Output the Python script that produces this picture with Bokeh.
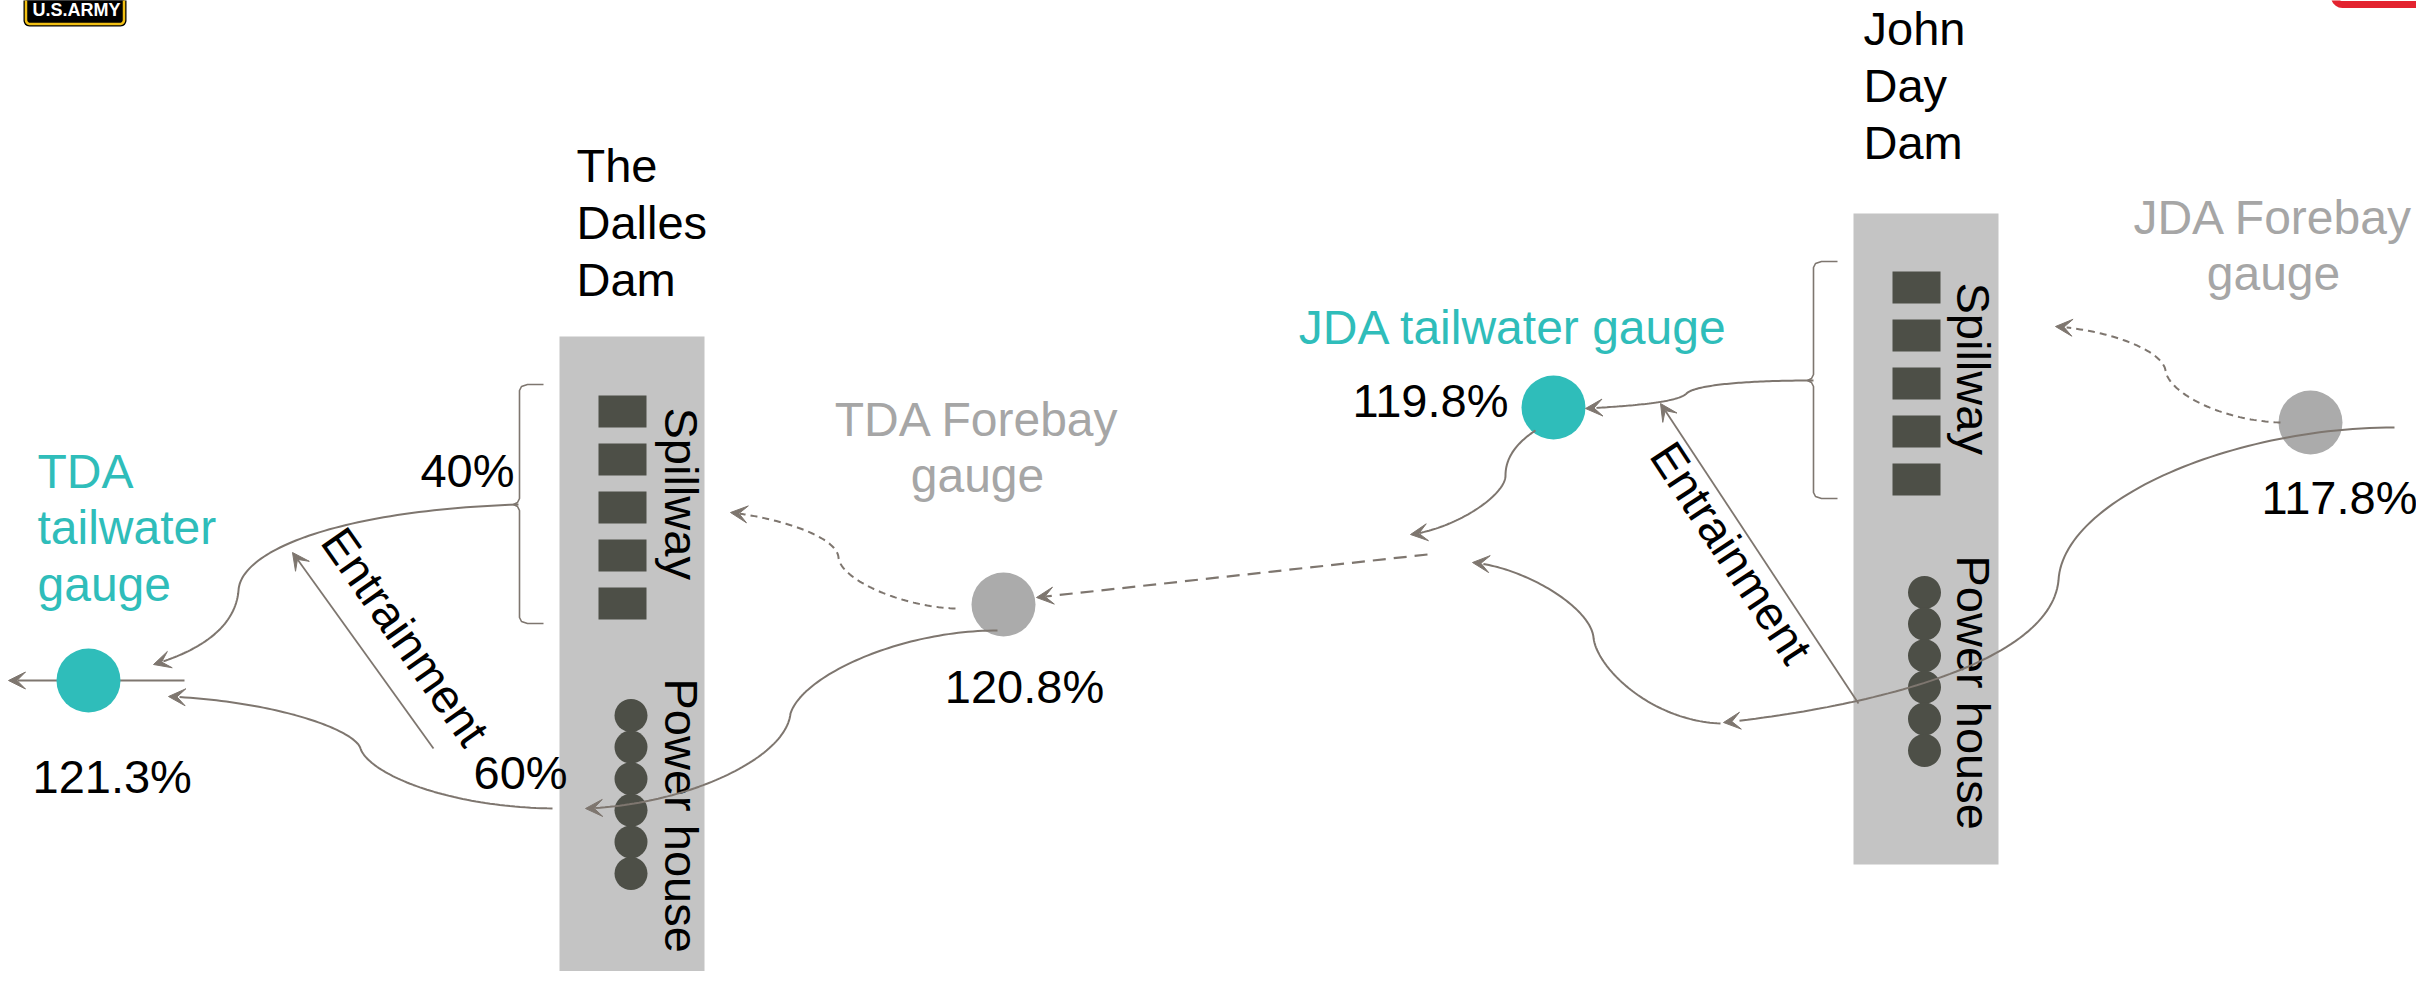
import numpy as np
from bokeh.plotting import figure
from bokeh.models import Range1d, Arrow, VeeHead, ColumnDataSource
from bokeh.core.properties import value
from bokeh.embed import file_html
from bokeh.resources import INLINE

# ---------------- data (labels and values) ----------------
dam_names = ["The Dalles Dam", "John Day Dam"]
gauge_names = ["TDA tailwater gauge", "TDA Forebay gauge", "JDA tailwater gauge", "JDA Forebay gauge"]
gauge_values = [121.3, 120.8, 119.8, 117.8]
gauge_kind = ["tailwater", "forebay", "tailwater", "forebay"]
tda_split_pct = [40, 60]          # spillway, power house
section_labels = ["Spillway", "Power house"]
flow_label = "Entrainment"
spill_bays = [5, 5]
turbine_units = [6, 6]

# ---------------- style ----------------
FONT = "Liberation Sans"
FS = 47
FS_L = 48
TEAL = "#2FBDBA"
GREY_TXT = "#A6A6A6"
GREY_DOT = "#ABABAB"
BAR = "#C4C4C4"
DARK = "#4D4F47"
LINE = "#7E766F"
RED = "#E3232F"
LSP = 56.5
BDY_EM = -0.383      # baseline correction (in em) for alphabetic text

W, H = 2416, 971
p = figure(width=W, height=H, x_range=Range1d(0, W), y_range=Range1d(H, 0),
           output_backend="svg", toolbar_location=None, min_border=0,
           x_axis_location=None, y_axis_location=None)
p.grid.visible = False
p.outline_line_color = None
p.background_fill_color = "white"
p.border_fill_color = "white"

# ---------------- layout ----------------
dam_bar = [dict(l=559, r=704, t=336, b=1000), dict(l=1853, r=1998, t=213, b=864)]
sq_x = [622, 1916]
sq_y0 = [411, 287]
sq_step = 48
tb_x = [630.5, 1924]
tb_y0 = [715, 592]
tb_step = 31.6
label_x = [681, 1973]
spill_y = [407, 282]
ph_y = [678, 555]
dam_title = [(576, 183), (1863, 46)]
gauge_xy = [(88, 680), (1003, 604), (1553, 407), (2310, 422)]

def txt(x, y, s, color="black", align="left", baseline="alphabetic", angle=0.0, size=FS, style="normal"):
    p.text(x=[x], y=[y], text=[s], text_color=color, text_align=align, text_baseline=baseline,
           angle=angle, text_font=value(FONT), text_font_size=f"{size}px", text_font_style=style)

def htxt(x, y, s, size=FS, **kw):
    txt(x, y + BDY_EM * size, s, size=size, **kw)

# logo fragment (top-left)
def rounded_box(l, r, t, b, rad):
    a = np.linspace(np.pi, np.pi / 2, 8)
    xs = [l] + list(l + rad + rad * np.cos(a)) + list(r - rad - rad * np.cos(a[::-1])) + [r]
    ys = [t] + list(b - rad + rad * np.sin(a)) + list(b - rad + rad * np.sin(a[::-1])) + [t]
    return xs, ys
bx, by = rounded_box(23, 126, -10, 26, 6)
p.patch(bx, by, fill_color="black", line_color=None)
bx, by = rounded_box(25.5, 123.5, -10, 23.5, 4)
p.patch(bx, by, fill_color="black", line_color="#F2C014", line_width=2.5)
htxt(32, 16, "U.S.ARMY", color="white", size=18, style="bold")

# red frame corner (top-right)
a = np.linspace(np.pi, np.pi / 2, 10)
rx = [2334, 2334] + list(2342 + 8 * np.cos(a)) + [2440]
ry = [-20, -4] + list(-4 + 8 * np.sin(a)) + [4]
p.line(rx, ry, line_color=RED, line_width=7)

# dam bars
for d in range(2):
    b = dam_bar[d]
    p.quad(left=[b["l"]], right=[b["r"]], top=[b["t"]], bottom=[b["b"]], fill_color=BAR, line_color=None)
    ys = [sq_y0[d] + i * sq_step for i in range(spill_bays[d])]
    p.rect(x=[sq_x[d]] * len(ys), y=ys, width=48, height=32, fill_color=DARK, line_color=None)
    ys = [tb_y0[d] + i * tb_step for i in range(turbine_units[d])]
    p.scatter(x=[tb_x[d]] * len(ys), y=ys, size=33, fill_color=DARK, line_color=None)
    txt(label_x[d], spill_y[d], section_labels[0], angle=-np.pi / 2)
    txt(label_x[d], ph_y[d], section_labels[1], angle=-np.pi / 2)
    tx, ty = dam_title[d]
    for i, w in enumerate(dam_names[d].split(" ", 1)[0:1] + dam_names[d].split(" ", 1)[1].split(" ")):
        htxt(tx, ty + i * 57, w)

# braces
def brace(x, top, tip, bot, hook=24):
    xs = [x + hook, x + 8, x + 2, x, x, x - 2, x - 6, x - 2, x, x, x + 2, x + 8, x + hook]
    ys = [top, top, top + 2, top + 6, tip - 6, tip - 2, tip, tip + 2, tip + 6, bot - 6, bot - 2, bot, bot]
    p.line(xs, ys, line_color=LINE, line_width=1.6)
brace(519, 384, 504, 623)
brace(1813, 261, 380, 498)

heads = dict(xs=[], ys=[], xe=[], ye=[])
def add_head(tip, prev):
    d = np.array(tip, float) - np.array(prev, float)
    d /= np.linalg.norm(d)
    heads["xs"].append(tip[0] - d[0] * 2); heads["ys"].append(tip[1] - d[1] * 2)
    heads["xe"].append(tip[0]); heads["ye"].append(tip[1])
    return d

def straight(a, b, dash="solid", lw=2.0):
    d = add_head(b, a)
    end = (b[0] - d[0] * 9, b[1] - d[1] * 9)
    p.line([a[0], end[0]], [a[1], end[1]], line_color=LINE, line_width=lw, line_dash=dash)

# TDA tailwater through-line (behind the gauge dot)
straight((184, 680), (8, 680))

# gauge dots
for (gx, gy), k in zip(gauge_xy, gauge_kind):
    p.scatter(x=[gx], y=[gy], size=64, fill_color=TEAL if k == "tailwater" else GREY_DOT, line_color=None)

# curves (cubic Bezier segments)
def bez(seg, n=60):
    P0, C1, C2, P3 = [np.array(q, float) for q in seg]
    t = np.linspace(0, 1, n)[:, None]
    return ((1 - t) ** 3) * P0 + 3 * ((1 - t) ** 2) * t * C1 + 3 * (1 - t) * t ** 2 * C2 + t ** 3 * P3

def curve(segs, dash="solid", lw=2.0):
    pts = np.vstack([bez(s) for s in segs])
    tip = segs[-1][3]
    add_head(tip, segs[-1][2])
    dist = np.hypot(pts[:, 0] - tip[0], pts[:, 1] - tip[1])
    pts = pts[dist > 9]
    p.line(pts[:, 0], pts[:, 1], line_color=LINE, line_width=lw, line_dash=dash)

curve([((518, 504), (338, 510), (240, 550), (238, 590)), ((238, 590), (235, 625), (203, 649), (153, 664))])
curve([((552, 808), (442, 806), (368, 772), (360, 748)), ((360, 748), (355, 730), (278, 701), (168, 696))])
curve([((955, 608), (900, 606), (840, 579), (838, 557)), ((838, 557), (836, 535), (775, 517), (730, 512))], dash="7 5")
curve([((997, 630), (900, 630), (802, 675), (790, 713)), ((790, 713), (785, 760), (680, 805), (585, 808))])
curve([((1813, 380), (1740, 380), (1694, 385), (1686, 393)), ((1686, 393), (1678, 401), (1640, 405), (1585, 408))])
curve([((1535, 430), (1515, 443), (1505, 458), (1505, 475)), ((1505, 475), (1505, 495), (1455, 528), (1410, 534))])
curve([((2394, 427), (2230, 427), (2062, 500), (2058, 580)), ((2058, 580), (2050, 660), (1880, 705), (1723, 722))])
curve([((1720, 723), (1650, 720), (1596, 667), (1593, 637)), ((1593, 637), (1590, 607), (1525, 567), (1472, 562))])
curve([((2280, 422), (2220, 420), (2168, 392), (2165, 370)), ((2165, 370), (2162, 350), (2110, 330), (2055, 326))], dash="7 5")

straight((433, 748), (292, 552), lw=1.8)
straight((1858, 703), (1660, 403), lw=1.8)
straight((1427, 554), (1036, 597), dash="13 8", lw=2.2)

src = ColumnDataSource(heads)
p.add_layout(Arrow(source=src, x_start="xs", y_start="ys", x_end="xe", y_end="ye", line_alpha=0,
                   end=VeeHead(size=17, fill_color=LINE, line_color=LINE, line_width=1)))

# labels
for i, w in enumerate(gauge_names[0].split(" ")):
    htxt(37, 489 + i * LSP, w, color=TEAL, size=FS_L)
htxt(977, 437, " ".join(gauge_names[1].split(" ")[:2]), color=GREY_TXT, align="center", size=FS_L)
htxt(977, 437 + LSP, gauge_names[1].split(" ")[2], color=GREY_TXT, align="center", size=FS_L)
htxt(1513, 345, gauge_names[2], color=TEAL, align="center", size=FS_L)
htxt(2273, 235, " ".join(gauge_names[3].split(" ")[:2]), color=GREY_TXT, align="center", size=FS_L)
htxt(2273, 235 + LSP, gauge_names[3].split(" ")[2], color=GREY_TXT, align="center", size=FS_L)

htxt(32, 794, f"{gauge_values[0]:.1f}%")
htxt(1024, 704, f"{gauge_values[1]:.1f}%", align="center")
htxt(1508, 418, f"{gauge_values[2]:.1f}%", align="right")
htxt(2339, 515, f"{gauge_values[3]:.1f}%", align="center")
htxt(514, 488, f"{tda_split_pct[0]}%", align="right")
htxt(473, 790, f"{tda_split_pct[1]}%")

txt(405, 636, flow_label, align="center", baseline="middle", angle=-0.96)
txt(1731, 552, flow_label, align="center", baseline="middle", angle=-0.99)

open("out.html", "w").write(file_html(p, INLINE))
